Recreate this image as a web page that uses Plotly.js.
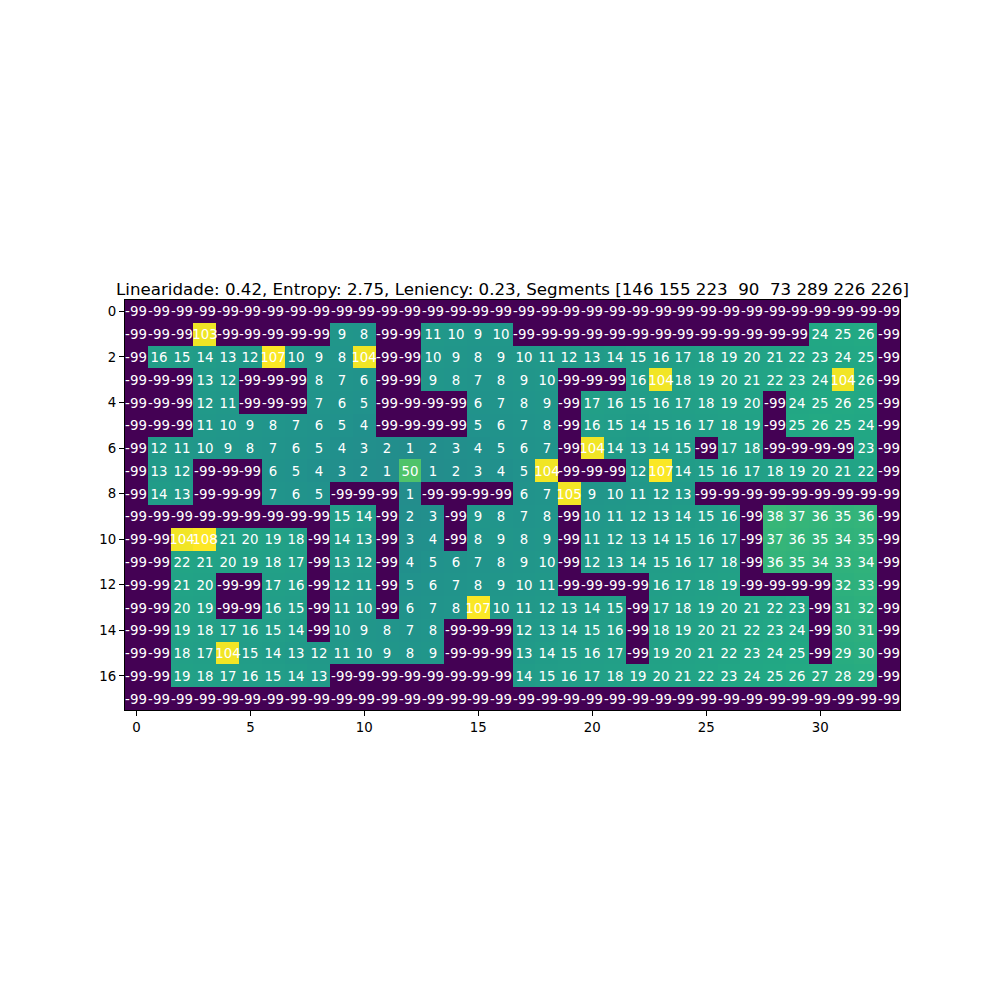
<!DOCTYPE html>
<html>
<head>
<meta charset="utf-8">
<script src="https://cdn.plot.ly/plotly-3.0.1.min.js"></script>
<style>body{margin:0;padding:0;background:#fff;} #chart{width:1000px;height:1000px;}</style>
</head>
<body>
<div id="chart"></div>
<script>
const titleText = "Linearidade: 0.42, Entropy: 2.75, Leniency: 0.23, Segments [146 155 223  90  73 289 226 226]";
const N = -99;
const row0  = [N,N,N,N,N,N,N,N,N,N,N,N,N,N,N,N,N,N,N,N,N,N,N,N,N,N,N,N,N,N,N,N,N,N];
const row1  = [N,N,N,103,N,N,N,N,N,9,8,N,N,11,10,9,10,N,N,N,N,N,N,N,N,N,N,N,N,N,24,25,26,N];
const row2  = [N,16,15,14,13,12,107,10,9,8,104,N,N,10,9,8,9,10,11,12,13,14,15,16,17,18,19,20,21,22,23,24,25,N];
const row3  = [N,N,N,13,12,N,N,N,8,7,6,N,N,9,8,7,8,9,10,N,N,N,16,104,18,19,20,21,22,23,24,104,26,N];
const row4  = [N,N,N,12,11,N,N,N,7,6,5,N,N,N,N,6,7,8,9,N,17,16,15,16,17,18,19,20,N,24,25,26,25,N];
const row5  = [N,N,N,11,10,9,8,7,6,5,4,N,N,N,N,5,6,7,8,N,16,15,14,15,16,17,18,19,N,25,26,25,24,N];
const row6  = [N,12,11,10,9,8,7,6,5,4,3,2,1,2,3,4,5,6,7,N,104,14,13,14,15,N,17,18,N,N,N,N,23,N];
const row7  = [N,13,12,N,N,N,6,5,4,3,2,1,50,1,2,3,4,5,104,N,N,N,12,107,14,15,16,17,18,19,20,21,22,N];
const row8  = [N,14,13,N,N,N,7,6,5,N,N,N,1,N,N,N,N,6,7,105,9,10,11,12,13,N,N,N,N,N,N,N,N,N];
const row9  = [N,N,N,N,N,N,N,N,N,15,14,N,2,3,N,9,8,7,8,N,10,11,12,13,14,15,16,N,38,37,36,35,36,N];
const row10 = [N,N,104,108,21,20,19,18,N,14,13,N,3,4,N,8,9,8,9,N,11,12,13,14,15,16,17,N,37,36,35,34,35,N];
const row11 = [N,N,22,21,20,19,18,17,N,13,12,N,4,5,6,7,8,9,10,N,12,13,14,15,16,17,18,N,36,35,34,33,34,N];
const row12 = [N,N,21,20,N,N,17,16,N,12,11,N,5,6,7,8,9,10,11,N,N,N,N,16,17,18,19,N,N,N,N,32,33,N];
const row13 = [N,N,20,19,N,N,16,15,N,11,10,N,6,7,8,107,10,11,12,13,14,15,N,17,18,19,20,21,22,23,N,31,32,N];
const row14 = [N,N,19,18,17,16,15,14,N,10,9,8,7,8,N,N,N,12,13,14,15,16,N,18,19,20,21,22,23,24,N,30,31,N];
const row15 = [N,N,18,17,104,15,14,13,12,11,10,9,8,9,N,N,N,13,14,15,16,17,N,19,20,21,22,23,24,25,N,29,30,N];
const row16 = [N,N,19,18,17,16,15,14,13,N,N,N,N,N,N,N,N,14,15,16,17,18,19,20,21,22,23,24,25,26,27,28,29,N];
const row17 = [N,N,N,N,N,N,N,N,N,N,N,N,N,N,N,N,N,N,N,N,N,N,N,N,N,N,N,N,N,N,N,N,N,N];
const zRows = [row0,row1,row2,row3,row4,row5,row6,row7,row8,row9,row10,row11,row12,row13,row14,row15,row16,row17];
const xTicks = [0,5,10,15,20,25,30];
const yTicks = [0,2,4,6,8,10,12,14,16];

const viridis = [
  [0.0,'#440154'],[0.1,'#482475'],[0.2,'#414487'],[0.3,'#355f8d'],[0.4,'#2a788e'],
  [0.5,'#21918c'],[0.6,'#22a884'],[0.7,'#44bf70'],[0.8,'#7ad151'],[0.9,'#bddf26'],[1.0,'#fde725']
];
const textRows = zRows.map(r => r.map(v => String(v)));

const data = [{
  type: 'heatmap',
  z: zRows,
  text: textRows,
  colorscale: viridis,
  zmin: -99, zmax: 108,
  showscale: false,
  texttemplate: '%{text}',
  textfont: {color: 'white', size: 13.33, family: 'DejaVu Sans'},
  hoverinfo: 'none',
  xgap: 0, ygap: 0
}];

const layout = {
  width: 1000, height: 1000,
  margin: {l: 125, r: 100, t: 300, b: 290, pad: 0},
  paper_bgcolor: 'white', plot_bgcolor: 'white',
  font: {family: 'DejaVu Sans', size: 13.33, color: 'black'},
  title: {text: titleText, font: {size: 16.67, color: 'black', family: 'DejaVu Sans'},
          x: 0.5, xanchor: 'center', xref: 'paper', y: 1, yref: 'paper', yanchor: 'bottom', pad: {b: 5}},
  xaxis: {range: [-0.5, 33.5], tickvals: xTicks, ticks: 'outside', ticklen: 5, tickcolor: 'black',
          showgrid: false, zeroline: false, showline: true, mirror: true, linecolor: 'black', linewidth: 1,
          tickfont: {size: 13.33}},
  yaxis: {range: [17.5, -0.5], tickvals: yTicks, ticks: 'outside', ticklen: 5, tickcolor: 'black',
          showgrid: false, zeroline: false, showline: true, mirror: true, linecolor: 'black', linewidth: 1,
          tickfont: {size: 13.33}}
};

Plotly.newPlot('chart', data, layout, {staticPlot: true});
</script>
</body>
</html>
